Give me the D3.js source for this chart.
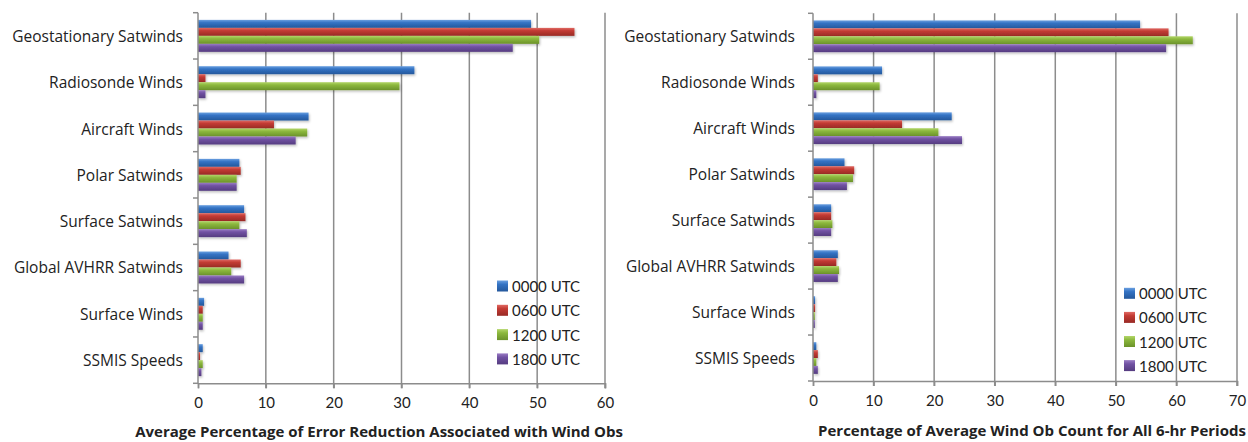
<!DOCTYPE html>
<html>
<head>
<meta charset="utf-8">
<script src="https://cdn.jsdelivr.net/npm/d3@7"></script>
<style>
  html, body { margin: 0; padding: 0; background: #fff; }
  svg { display: block; font-family: "Open Sans", Lato, sans-serif; }
</style>
</head>
<body>
<svg id="chart" width="1248" height="442"></svg>
<script>
// ---------- data ----------
const categories = ["Geostationary Satwinds", "Radiosonde Winds", "Aircraft Winds", "Polar Satwinds",
  "Surface Satwinds", "Global AVHRR Satwinds", "Surface Winds", "SSMIS Speeds"];
const seriesNames = ["0000 UTC", "0600 UTC", "1200 UTC", "1800 UTC"];

// Left chart: Average Percentage of Error Reduction Associated with Wind Obs
const errUtc00 = [49.1, 31.9, 16.3, 6.1, 6.8, 4.5, 0.9, 0.7];
const errUtc06 = [55.5, 1.1, 11.2, 6.3, 7.0, 6.3, 0.7, 0.3];
const errUtc12 = [50.3, 29.7, 16.1, 5.7, 6.1, 4.9, 0.7, 0.7];
const errUtc18 = [46.4, 1.1, 14.4, 5.7, 7.2, 6.8, 0.7, 0.5];

// Right chart: Percentage of Average Wind Ob Count for All 6-hr Periods
const cntUtc00 = [54.0, 11.4, 22.9, 5.2, 3.0, 4.1, 0.35, 0.55];
const cntUtc06 = [58.7, 0.8, 14.7, 6.8, 3.0, 3.85, 0.35, 0.8];
const cntUtc12 = [62.7, 11.0, 20.7, 6.6, 3.2, 4.3, 0.3, 0.55];
const cntUtc18 = [58.3, 0.55, 24.6, 5.6, 3.0, 4.1, 0.3, 0.8];

const leftTicks = [0, 10, 20, 30, 40, 50, 60];
const rightTicks = [0, 10, 20, 30, 40, 50, 60, 70];
const leftTitle = "Average Percentage of Error Reduction Associated with Wind Obs";
const rightTitle = "Percentage of Average Wind Ob Count for All 6-hr Periods";

// ---------- styles ----------
const colors = [
  {light: "#6a9fe0", main: "#3473c4", dark: "#24589c"},
  {light: "#e06a64", main: "#c33b34", dark: "#982a25"},
  {light: "#b3d66a", main: "#8cb83d", dark: "#6b922a"},
  {light: "#9a7cc4", main: "#7152a3", dark: "#553c80"}
];

const svg = d3.select("#chart");
const defs = svg.append("defs");
colors.forEach((c, i) => {
  const g = defs.append("linearGradient").attr("id", "grad" + i)
    .attr("x1", 0).attr("y1", 0).attr("x2", 0).attr("y2", 1);
  g.append("stop").attr("offset", "0%").attr("stop-color", c.light);
  g.append("stop").attr("offset", "35%").attr("stop-color", c.main);
  g.append("stop").attr("offset", "100%").attr("stop-color", c.dark);
});
const flt = defs.append("filter").attr("id", "shadow")
  .attr("x", "-5%").attr("y", "-30%").attr("width", "115%").attr("height", "180%");
flt.append("feDropShadow").attr("dx", 1).attr("dy", 1.5).attr("stdDeviation", 1)
  .attr("flood-color", "#000").attr("flood-opacity", 0.25);

function drawChart(cfg) {
  const x = d3.scaleLinear().domain(cfg.domain).range([cfg.x0, cfg.x1]);
  const y0 = d3.scaleBand().domain(categories).range([cfg.y0, cfg.y1])
    .paddingInner(0.31).paddingOuter(0.155);
  const y1 = d3.scaleBand().domain(seriesNames).range([0, y0.bandwidth()]);
  const step = y0.step();
  const g = svg.append("g");

  // gridlines
  g.append("g").selectAll("line").data(cfg.ticks.slice(1)).join("line")
    .attr("x1", d => x(d)).attr("x2", d => x(d))
    .attr("y1", cfg.y0).attr("y2", cfg.y1 + 5)
    .attr("stroke", "#8c8c8c").attr("stroke-width", 1.5);

  // bottom axis
  const xAxis = d3.axisBottom(x).tickValues(cfg.ticks).tickSize(5).tickPadding(9);
  const xa = g.append("g").attr("transform", `translate(0,${cfg.y1})`).call(xAxis);
  xa.select(".domain").attr("stroke", "#8c8c8c").attr("stroke-width", 1.5);
  xa.selectAll(".tick line").attr("stroke", "#8c8c8c").attr("stroke-width", 1.5);
  xa.selectAll(".tick text").attr("font-size", 15).attr("fill", "#222")
    .attr("font-family", "Lato, 'Open Sans', sans-serif");

  // bars
  const seriesGroups = g.append("g").selectAll("g").data(cfg.values).join("g")
    .attr("fill", (d, i) => `url(#grad${i})`)
    .attr("filter", "url(#shadow)");
  seriesGroups.selectAll("rect").data((vals, si) => vals.map((v, ci) => ({v, ci, si})))
    .join("rect")
    .attr("x", x(0))
    .attr("y", d => y0(categories[d.ci]) + y1(seriesNames[d.si]))
    .attr("height", y1.bandwidth())
    .attr("width", d => x(d.v) - x(0));

  // left axis with ticks at category boundaries
  const bounds = d3.range(categories.length + 1).map(i => cfg.y0 + i * step);
  g.append("line").attr("x1", x(0)).attr("x2", x(0)).attr("y1", cfg.y0).attr("y2", cfg.y1)
    .attr("stroke", "#8c8c8c").attr("stroke-width", 1.5);
  g.append("g").selectAll("line").data(bounds).join("line")
    .attr("x1", x(0) - 5).attr("x2", x(0)).attr("y1", d => d).attr("y2", d => d)
    .attr("stroke", "#8c8c8c").attr("stroke-width", 1.5);

  // category labels
  g.append("g").selectAll("text").data(categories).join("text")
    .attr("x", cfg.labelX).attr("y", d => y0(d) + y0.bandwidth() / 2)
    .attr("text-anchor", "end").attr("dominant-baseline", "central")
    .attr("font-size", 15.5).attr("fill", "#222").text(d => d);

  // legend
  const lg = g.append("g").selectAll("g").data(seriesNames).join("g")
    .attr("transform", (d, i) => `translate(${cfg.legendX},${cfg.legendY + i * cfg.legendStep})`);
  lg.append("rect").attr("x", 0).attr("y", -5.5).attr("width", 11).attr("height", 11)
    .attr("fill", (d, i) => `url(#grad${i})`);
  lg.append("text").attr("x", 15).attr("y", 0).attr("dominant-baseline", "central")
    .attr("font-family", "Lato, 'Open Sans', sans-serif")
    .attr("font-size", 15).attr("fill", "#222").text(d => d);

  // title
  g.append("text").attr("x", cfg.titleX).attr("y", cfg.titleY)
    .attr("text-anchor", "middle").attr("font-weight", "bold")
    .attr("font-size", 15).attr("fill", "#222").text(cfg.title);
}

drawChart({
  domain: [0, 60], ticks: leftTicks, x0: 198, x1: 605, y0: 12.7, y1: 383.3,
  values: [errUtc00, errUtc06, errUtc12, errUtc18],
  labelX: 183, legendX: 497, legendY: 286, legendStep: 24.3,
  title: leftTitle, titleX: 379, titleY: 437
});
drawChart({
  domain: [0, 70], ticks: rightTicks, x0: 813, x1: 1237, y0: 13.3, y1: 381,
  values: [cntUtc00, cntUtc06, cntUtc12, cntUtc18],
  labelX: 795, legendX: 1124, legendY: 293.3, legendStep: 24.1,
  title: rightTitle, titleX: 1032, titleY: 436
});
</script>
</body>
</html>
